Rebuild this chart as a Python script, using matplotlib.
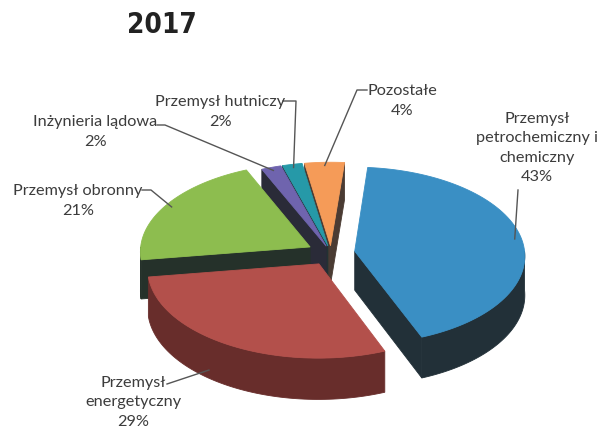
import numpy as np
import matplotlib.pyplot as plt
from matplotlib.patches import Polygon

# data
labels = ["Przemysł\npetrochemiczny i\nchemiczny\n43%",
          "Przemysł\nenergetyczny\n29%",
          "Przemysł obronny\n21%",
          "Inżynieria lądowa\n2%",
          "Przemysł hutniczy\n2%",
          "Pozostałe\n4%"]
shares = [43, 29, 21, 2, 2, 4]
top_colors = ["#3a8fc4", "#b3504b", "#8dbd4f", "#6f64ae", "#2699a8", "#f59b58"]
side_colors = ["#223038", "#682d2b", "#25312a", "#2a2b38", "#223234", "#4a3b33"]
explode = [24, 24, 24, 14, 14, 14]

# label placement (pixel coords): text centre, leader start, horizontal tick
label_pos = [(537, 148), (133, 402), (78, 201), (95, 132), (220, 112), (402, 101)]
leader_start = [(518, 190), (167, 384), (142, 190), (157, 125), (283, 101), (367, 90)]
leader_tick = [0, 0, 9, 8, 13, -10]

# 3d pie geometry (pixel units)
CX, CY, R, K, DEPTH, P = 331, 253, 170, 0.52, 39, 0.05
START = 5


def project(gx, gy, z):
  f = 1.0 / (1.0 + P * gy / R)
  return CX + gx * f, CY - (K * gy + z) * f


def pt(r, a, z, e, m):
  a = np.radians(a)
  m = np.radians(m)
  gx = r * np.sin(a) + e * np.sin(m)
  gy = r * np.cos(a) + e * np.cos(m)
  return project(gx, gy, z)


def arc_pts(a1, a2, z, e, m, n=80):
  aa = np.linspace(a1, a2, n)
  x, y = pt(R, aa, z, e, m)
  return list(zip(x, y))


fig = plt.figure(figsize=(5.98, 4.29), dpi=100)
ax = fig.add_axes([0, 0, 1, 1])
ax.set_xlim(0, 598)
ax.set_ylim(429, 0)
ax.axis("off")

total = float(sum(shares))
bounds = START + 360.0 * np.concatenate([[0], np.cumsum(shares)]) / total
mids = (bounds[:-1] + bounds[1:]) / 2

order = sorted(range(len(shares)), key=lambda i: -np.cos(np.radians(mids[i])))

for i in order:
  a1, a2, m, e = bounds[i], bounds[i + 1], mids[i], explode[i]
  top_c, side_c = top_colors[i], side_colors[i]
  kw = dict(lw=0.6, zorder=2)
  apex_t = pt(0, 0, 0, e, m)
  apex_b = pt(0, 0, -DEPTH, e, m)
  # radial walls facing the viewer
  if np.sin(np.radians(a1)) < 0:
    ax.add_patch(Polygon([apex_t, pt(R, a1, 0, e, m), pt(R, a1, -DEPTH, e, m), apex_b],
                         fc=side_c, ec=side_c, **kw))
  if np.sin(np.radians(a2)) > 0:
    ax.add_patch(Polygon([apex_t, pt(R, a2, 0, e, m), pt(R, a2, -DEPTH, e, m), apex_b],
                         fc=side_c, ec=side_c, **kw))
  # outer wall, front half only
  lo, hi = max(a1, 90), min(a2, 270)
  if lo < hi:
    wall = arc_pts(lo, hi, 0, e, m) + arc_pts(hi, lo, -DEPTH, e, m)
    ax.add_patch(Polygon(wall, fc=side_c, ec=side_c, **kw))
  # top face
  ax.add_patch(Polygon([apex_t] + arc_pts(a1, a2, 0, e, m), fc=top_c, ec=top_c, **kw))

# leader lines and labels
txt = dict(family=["Lato", "DejaVu Sans"], fontsize=11.7, color="#3c3c3c",
           ha="center", va="center", linespacing=1.5)
for i in range(len(shares)):
  m, e = mids[i], explode[i]
  if i == 1:
    tx, ty = pt(R, m + 8, -DEPTH * 0.8, e, m)
  else:
    tx, ty = pt(R * 0.96, m, 0, e, m)
  sx, sy = leader_start[i]
  xs = [sx, sx + leader_tick[i], tx]
  ys = [sy, sy, ty]
  ax.plot(xs, ys, color="#555555", lw=1.0, zorder=3)
  ax.text(label_pos[i][0], label_pos[i][1], labels[i], **txt)

ax.text(162, 25, "2017", family="DejaVu Sans", fontstretch="condensed",
        fontsize=20, fontweight="bold", color="#222222", ha="center", va="center")

fig.savefig("out.png", dpi=100)
